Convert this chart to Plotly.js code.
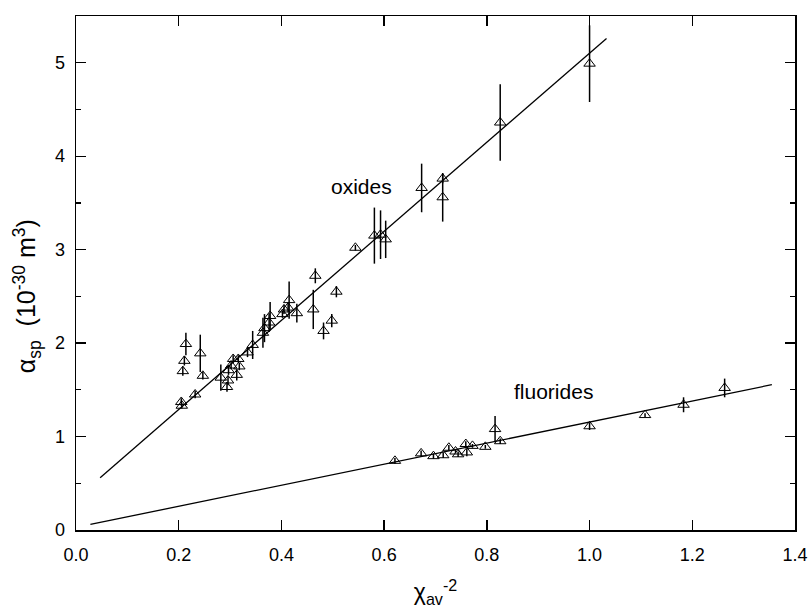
<!DOCTYPE html>
<html>
<head>
<meta charset="utf-8">
<script src="https://cdn.plot.ly/plotly-3.0.1.min.js"></script>
<style>html,body{margin:0;padding:0;background:#fff;}#chart{width:810px;height:611px;}</style>
</head>
<body>
<div id="chart"></div>
<script>
// Oxides data
const oxX = [1.000, 0.826, 0.714, 0.714, 0.673, 0.581, 0.593, 0.603, 0.544, 0.466,
             0.507, 0.462, 0.498, 0.482, 0.415, 0.430, 0.405, 0.413, 0.402, 0.378,
             0.376, 0.367, 0.364, 0.344, 0.334, 0.316, 0.306, 0.302, 0.318, 0.297,
             0.313, 0.296, 0.282, 0.294, 0.247, 0.242, 0.214, 0.211, 0.208, 0.232,
             0.205, 0.206];
const oxY = [4.99, 4.36, 3.76, 3.56, 3.66, 3.15, 3.16, 3.11, 3.02, 2.72,
             2.55, 2.36, 2.24, 2.13, 2.46, 2.32, 2.36, 2.38, 2.31, 2.29,
             2.22, 2.16, 2.11, 1.98, 1.90, 1.83, 1.83, 1.76, 1.75, 1.71,
             1.66, 1.60, 1.63, 1.53, 1.65, 1.89, 1.99, 1.81, 1.70, 1.45,
             1.37, 1.33];
const oxErr = [0.41, 0.41, 0.05, 0.26, 0.26, 0.30, 0.26, 0.20, 0.03, 0.08,
               0.06, 0.21, 0.07, 0.09, 0.20, 0.10, 0.05, 0.05, 0.04, 0.15,
               0.10, 0.15, 0.16, 0.15, 0.05, 0.04, 0.04, 0.04, 0.04, 0.05,
               0.06, 0.05, 0.14, 0.05, 0.04, 0.20, 0.12, 0.05, 0.05, 0.04,
               0.04, 0.03];

// Fluorides data
const flX = [1.263, 1.183, 1.108, 1.000, 0.816, 0.826, 0.797, 0.772, 0.759, 0.761,
             0.744, 0.739, 0.726, 0.715, 0.696, 0.672, 0.621];
const flY = [1.52, 1.34, 1.23, 1.11, 1.08, 0.95, 0.89, 0.90, 0.92, 0.83,
             0.81, 0.84, 0.88, 0.80, 0.79, 0.82, 0.74];
const flErr = [0.10, 0.08, 0.02, 0.04, 0.14, 0.03, 0.02, 0.02, 0.03, 0.04,
               0.03, 0.02, 0.03, 0.03, 0.03, 0.03, 0.03];

// Fit lines
const oxFitX = [0.047, 1.033];
const oxFitY = [0.56, 5.26];
const flFitX = [0.028, 1.355];
const flFitY = [0.06, 1.555];

// Labels
const xTickVals = [0, 0.2, 0.4, 0.6, 0.8, 1.0, 1.2, 1.4];
const xTickText = ["0.0", "0.2", "0.4", "0.6", "0.8", "1.0", "1.2", "1.4"];
const yTickVals = [0, 1, 2, 3, 4, 5];
const yTickText = ["0", "1", "2", "3", "4", "5"];
const xTitle = "χ<sub>av</sub><sup>-2</sup>";
const yTitle = "α<sub>sp</sub>  (10<sup>-30</sup> m<sup>3</sup>)";

const FONT = "Arial, 'Liberation Sans', sans-serif";

const marker = {symbol: "triangle-up-open", size: 10, color: "#000", line: {color: "#000", width: 1}};
const traces = [
  {x: oxFitX, y: oxFitY, mode: "lines", line: {color: "#000", width: 1.3}, hoverinfo: "skip"},
  {x: flFitX, y: flFitY, mode: "lines", line: {color: "#000", width: 1.3}, hoverinfo: "skip"},
  {x: oxX, y: oxY, mode: "markers", marker: marker,
   error_y: {type: "data", array: oxErr, visible: true, color: "#000", thickness: 1.5, width: 0}},
  {x: flX, y: flY, mode: "markers", marker: marker,
   error_y: {type: "data", array: flErr, visible: true, color: "#000", thickness: 1.5, width: 0}}
];

const layout = {
  width: 810, height: 611,
  margin: {l: 76, r: 15, t: 16, b: 81},
  paper_bgcolor: "#fff", plot_bgcolor: "#fff",
  showlegend: false,
  hovermode: false,
  font: {family: FONT, color: "#000", size: 18},
  xaxis: {
    range: [0, 1.4], tickvals: xTickVals, ticktext: xTickText,
    ticks: "inside", ticklen: 10, tickwidth: 1.3, tickcolor: "#000",
    showline: true, linecolor: "#000", linewidth: 1.5, mirror: "ticks",
    showgrid: false, zeroline: false,
    ticklabelstandoff: 8,
    tickfont: {family: FONT, size: 18, color: "#000"},
    title: {text: xTitle, font: {family: FONT, size: 23, color: "#000"}, standoff: 20}
  },
  yaxis: {
    range: [0, 5.5], tickvals: yTickVals, ticktext: yTickText,
    ticks: "inside", ticklen: 10, tickwidth: 1.3, tickcolor: "#000",
    minor: {dtick: 0.5, ticks: "inside", ticklen: 5, tickwidth: 1.3, tickcolor: "#000", showgrid: false},
    showline: true, linecolor: "#000", linewidth: 1.5, mirror: "ticks",
    showgrid: false, zeroline: false,
    ticklabelstandoff: 6,
    tickfont: {family: FONT, size: 18, color: "#000"}
  },
  annotations: [
    {x: -0.068, y: 0.455, xref: "paper", yref: "paper", text: yTitle, textangle: -90,
     xanchor: "center", yanchor: "middle", showarrow: false,
     font: {family: FONT, size: 25, color: "#000"}},
    {x: 0.555, y: 3.68, xref: "x", yref: "y", text: "oxides", showarrow: false,
     font: {family: FONT, size: 21, color: "#000"}},
    {x: 0.929, y: 1.48, xref: "x", yref: "y", text: "fluorides", showarrow: false,
     font: {family: FONT, size: 21, color: "#000"}}
  ]
};

Plotly.newPlot("chart", traces, layout, {staticPlot: true, displayModeBar: false});
</script>
</body>
</html>
